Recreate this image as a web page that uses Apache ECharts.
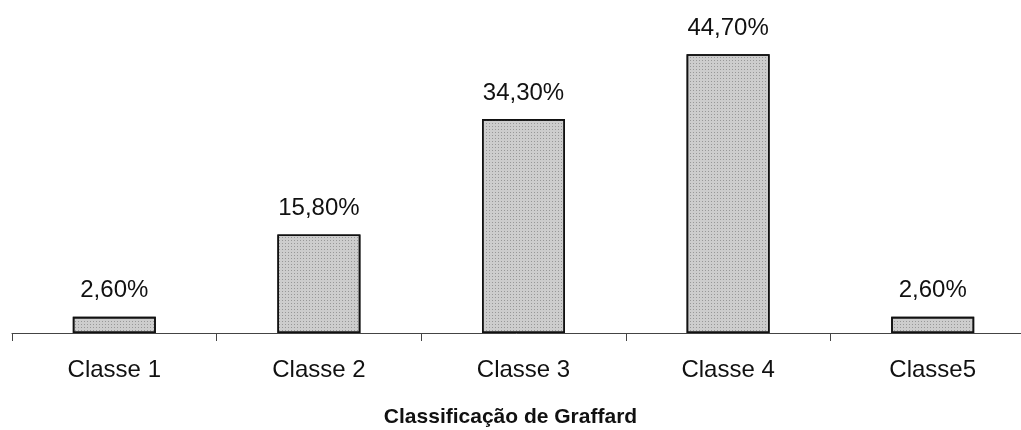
<!DOCTYPE html>
<html><head><meta charset="utf-8">
<script src="https://cdn.jsdelivr.net/npm/echarts@6/dist/echarts.min.js"></script>
<style>html,body{margin:0;padding:0;background:#fff}#c{width:1021px;height:430px}</style>
</head><body><div id="c"></div>
<script>
const categories = ['Classe 1', 'Classe 2', 'Classe 3', 'Classe 4', 'Classe5'];
const values = [2.6, 15.8, 34.3, 44.7, 2.6];
const axisTitle = 'Classificação de Graffard';

const chart = echarts.init(document.getElementById('c'));
chart.setOption({
  animation: false,
  title: {
    text: axisTitle, left: 'center', top: 402,
    textStyle: {fontFamily: 'Liberation Sans', fontSize: 21, fontWeight: 'bold', color: '#111'}
  },
  grid: {left: 12, width: 1023, top: 0, height: 333, containLabel: false, outerBoundsMode: 'none'},
  xAxis: {
    type: 'category', data: categories,
    axisLine: {lineStyle: {color: '#444', width: 1}},
    axisTick: {show: true, length: 8, lineStyle: {color: '#444'}},
    axisLabel: {margin: 25, fontFamily: 'Liberation Sans', fontSize: 24, color: '#111'}
  },
  yAxis: {type: 'value', min: 0, max: 53.4, show: false, splitLine: {show: false}},
  series: [{
    type: 'bar', data: values, barWidth: 83,
    itemStyle: {
      color: '#cdcdcd', borderColor: '#111', borderWidth: 1.6,
      decal: {symbol: 'rect', symbolSize: 1, color: 'rgba(110,110,110,0.55)', dashArrayX: [1, 2], dashArrayY: [1, 2], rotation: 0}
    },
    label: {
      show: true, position: 'top', distance: 14,
      fontFamily: 'Liberation Sans', fontSize: 24, color: '#111',
      formatter: p => p.value.toFixed(2).replace('.', ',') + '%'
    }
  }]
});
</script></body></html>
